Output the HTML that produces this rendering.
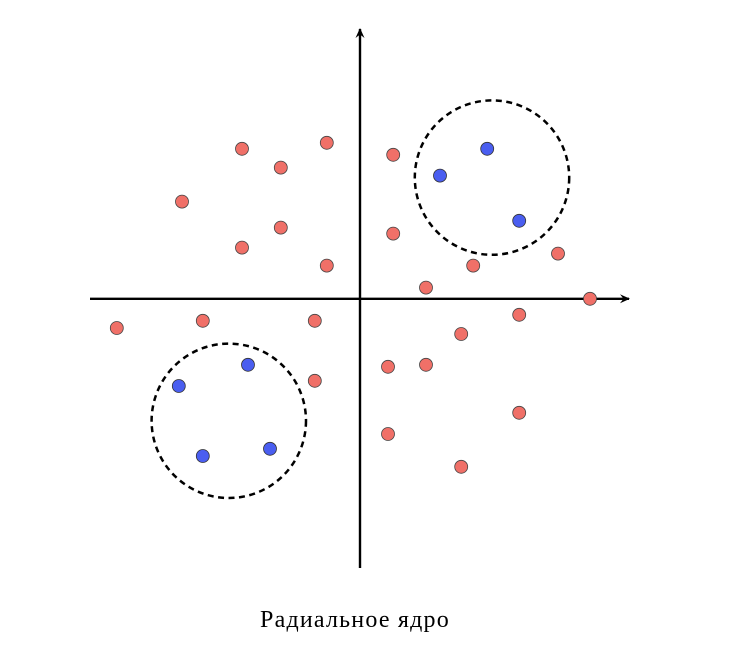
<!DOCTYPE html>
<html><head><meta charset="utf-8"><style>
html,body{margin:0;padding:0;background:#fff;width:734px;height:648px;overflow:hidden}
</style></head><body>
<svg id="chart" width="734" height="648" xmlns="http://www.w3.org/2000/svg">
<defs><marker id="ah" markerWidth="12" markerHeight="12" refX="9" refY="6" orient="auto" markerUnits="userSpaceOnUse"><path d="M0,1.5 L10,6 L0,10.5 L3.5,6 Z" fill="#000"/></marker></defs>
<g id="axes"></g><g id="regions"></g><g id="pts"></g>
<text x="355" y="627" text-anchor="middle" font-family="'Liberation Serif','Noto Serif CJK SC',serif" font-size="24" letter-spacing="1.2">Радиальное ядро</text>
</svg>
<script>
const redX=[-2.95,-1.98,-0.83,-4.45,-2.95,-1.98,-0.83,0.83,0.83,1.65,2.83,4.95,5.75,-6.08,-3.93,-1.13,-1.13,0.7,1.65,2.53,3.98,3.98,0.7,2.53];
const redY=[3.75,3.28,3.9,2.43,1.28,1.78,0.83,3.6,1.63,0.28,0.83,1.13,0,-0.73,-0.55,-0.55,-2.05,-1.7,-1.65,-0.88,-0.4,-2.85,-3.38,-4.2];
const blueX=[2.0,3.18,3.98,-4.53,-2.8,-3.93,-2.25];
const blueY=[3.08,3.75,1.95,-2.18,-1.65,-3.93,-3.75];
const circX=[3.3,-3.28];
const circY=[3.03,-3.05];
const circR=[1.93,1.93];
const ox=360,oy=298.8,k=40;
const sx=v=>ox+v*k, sy=v=>oy-v*k;
const NS="http://www.w3.org/2000/svg";
function mk(t,a,p){const e=document.createElementNS(NS,t);for(const n in a)e.setAttribute(n,a[n]);p.appendChild(e);return e;}
const ax=document.getElementById('axes');
let xa=mk('line',{x1:90,y1:oy,x2:629,y2:oy,stroke:'#000','stroke-width':2.4,'marker-end':'url(#ah)'},ax);


let ya=mk('line',{x1:ox,y1:568,x2:ox,y2:29,stroke:'#000','stroke-width':2.4,'marker-end':'url(#ah)'},ax);


const rg=document.getElementById('regions');
circX.forEach((x,i)=>{const c=mk('circle',{cx:sx(x),cy:sy(circY[i]),r:circR[i]*k,fill:'none',stroke:'#000','stroke-width':2.5,'stroke-dasharray':'6,4.5'},rg);

});
const pg=document.getElementById('pts');
redX.forEach((x,i)=>{const c=mk('circle',{cx:sx(x),cy:sy(redY[i]),r:6.5,fill:'#f07068',stroke:'#444','stroke-width':0.8},pg);

});
blueX.forEach((x,i)=>{const c=mk('circle',{cx:sx(x),cy:sy(blueY[i]),r:6.5,fill:'#4a5ef0',stroke:'#333','stroke-width':0.8},pg);

});
</script>
</body></html>
